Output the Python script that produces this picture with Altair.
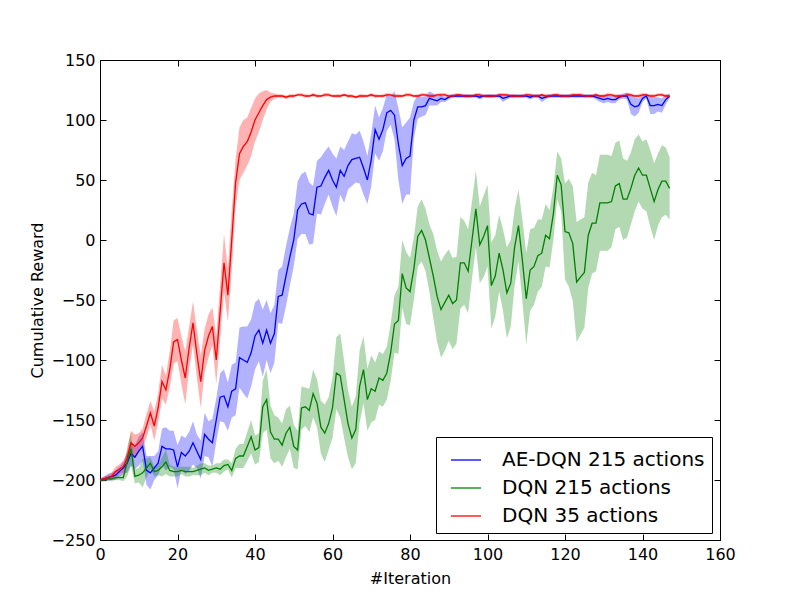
import altair as alt
import pandas as pd

series_names = ["AE-DQN 215 actions", "DQN 215 actions", "DQN 35 actions"]
series_colors = ["#0000ff", "#008000", "#ff0000"]
x_ticks = [0, 20, 40, 60, 80, 100, 120, 140, 160]
y_ticks = [-250, -200, -150, -100, -50, 0, 50, 100, 150]

# AE-DQN 215 actions (blue): mean and half-width of shaded band
ae_mean = [
    -200, -199, -198, -197, -196, -193, -190, -186, -178, -181,
    -176, -172, -192, -194, -190, -186, -172, -174, -174, -175,
    -189, -177, -180, -176, -169, -176, -183, -162, -166, -169,
    -150, -131, -130, -139, -126, -124, -98, -100, -102, -94,
    -80, -75, -86, -75, -86, -78, -47, -46, -30, -14,
    0, 25, 30, 31, 22, 21, 44, 45, 52, 58,
    50, 44, 58, 53, 62, 67, 68, 69, 60, 50,
    67, 92, 84, 92, 106, 108, 104, 80, 62, 68,
    70, 100, 111, 111, 112, 118, 117, 116, 118, 117,
    119, 120, 120, 120, 120, 120, 120, 120, 119, 120,
    120, 120, 120, 120, 118, 119, 120, 120, 120, 120,
    120, 119, 120, 120, 118, 119, 120, 120, 120, 120,
    120, 120, 120, 120, 120, 120, 120, 120, 119, 118,
    117, 118, 117, 117, 119, 120, 120, 113, 111, 112,
    118, 120, 112, 112, 113, 112, 117, 120,
]
ae_spread = [
    1, 2, 3, 3, 4, 4, 5, 8, 10, 10,
    12, 12, 12, 14, 10, 10, 15, 18, 15, 16,
    18, 14, 15, 16, 18, 14, 16, 18, 15, 20,
    18, 20, 22, 20, 22, 22, 25, 28, 30, 28,
    28, 26, 28, 25, 25, 24, 22, 24, 25, 24,
    22, 24, 25, 26, 26, 24, 22, 24, 22, 20,
    22, 24, 20, 22, 20, 22, 20, 22, 22, 20,
    22, 20, 18, 18, 15, 12, 20, 30, 32, 30,
    32, 15, 10, 8, 8, 6, 5, 4, 3, 2,
    2, 1.5, 1.5, 1.5, 1.5, 1.5, 1.5, 1.5, 2, 1.5,
    1.5, 1.5, 1.5, 1.5, 3, 2, 1.5, 1.5, 1.5, 1.5,
    1.5, 2, 1.5, 1.5, 3, 2, 1.5, 1.5, 1.5, 1.5,
    1.5, 1.5, 1.5, 1.5, 1.5, 1.5, 1.5, 1.5, 2, 3,
    3, 3, 3, 3, 2, 2, 3, 8, 8, 6,
    3, 2, 7, 7, 6, 6, 4, 2,
]

# DQN 215 actions (green)
dqn215_mean = [
    -200, -200, -199, -199, -198, -198, -198, -185, -174, -197,
    -196, -194, -190, -186, -193, -192, -189, -185, -192, -193,
    -193, -192, -193, -193, -193, -192, -191, -190, -192, -191,
    -190, -191, -188, -187, -192, -182, -180, -180, -172, -164,
    -175, -173, -139, -133, -160, -166, -166, -171, -161, -156,
    -172, -175, -140, -139, -142, -128, -136, -156, -161, -153,
    -140, -111, -113, -133, -153, -165, -158, -122, -108, -133,
    -124, -126, -115, -117, -111, -94, -70, -67, -28, -40,
    -43, -24, 3, 8, 0, -15, -30, -47, -58, -52,
    -46, -53, -50, -19, -19, -26, 0, 26, -4, 3,
    12, -38, -30, -11, -25, -44, -36, -6, 12, -17,
    -49, -25, -22, -13, -11, 4, 1, 22, 54, 46,
    7, 6, -3, -35, -31, -27, 4, 14, 14, 31,
    31, 31, 32, 45, 47, 34, 34, 43, 54, 60,
    54, 54, 43, 32, 42, 49, 49, 43,
]
dqn215_spread = [
    1, 1, 1, 2, 2, 2, 3, 12, 14, 6,
    6, 12, 8, 5, 4, 4, 8, 10, 5, 4,
    4, 3, 4, 4, 3, 4, 5, 4, 4, 3,
    4, 5, 5, 4, 6, 8, 10, 10, 12, 14,
    12, 12, 22, 25, 22, 20, 18, 18, 20, 18,
    18, 16, 18, 16, 18, 20, 20, 22, 24, 22,
    25, 30, 35, 32, 28, 26, 28, 30, 28, 26,
    28, 24, 22, 22, 22, 24, 24, 28, 28, 30,
    28, 26, 25, 26, 26, 28, 35, 38, 40, 40,
    38, 38, 36, 38, 35, 35, 32, 32, 32, 34,
    34, 36, 34, 32, 34, 38, 36, 32, 30, 34,
    38, 34, 32, 30, 28, 26, 24, 22, 20, 22,
    40, 45, 48, 50, 48, 46, 44, 42, 40, 40,
    40, 40, 38, 36, 36, 34, 32, 30, 30, 28,
    28, 30, 32, 32, 30, 30, 28, 26,
]

# DQN 35 actions (red)
dqn35_mean = [
    -200, -199, -198, -197, -193, -191, -189, -182, -169, -172,
    -169, -165, -155, -144, -155, -140, -118, -125, -108, -85,
    -83, -100, -115, -90, -69, -95, -118, -92, -80, -72,
    -100, -60, -19, -46, 0, 48, 72, 78, 82, 90,
    100, 106, 112, 117, 119, 120, 120, 120, 119, 120,
    120, 121, 121, 120, 120, 121, 120, 120, 121, 121,
    120, 120, 120, 121, 120, 120, 119, 120, 120, 120,
    121, 120, 120, 120, 121, 121, 120, 120, 120, 121,
    121, 120, 120, 121, 121, 120, 120, 121, 121, 121,
    120, 120, 121, 121, 120, 120, 120, 121, 121, 120,
    120, 120, 120, 121, 121, 121, 120, 120, 120, 120,
    121, 121, 120, 120, 121, 120, 120, 121, 121, 120,
    120, 120, 121, 121, 121, 120, 120, 120, 121, 120,
    120, 121, 121, 120, 120, 120, 121, 121, 120, 120,
    121, 121, 120, 120, 121, 121, 120, 120,
]
dqn35_spread = [
    1, 2, 2, 3, 4, 4, 5, 6, 10, 10,
    8, 8, 10, 10, 12, 12, 14, 12, 15, 18,
    18, 20, 22, 18, 18, 20, 22, 18, 18, 16,
    20, 22, 24, 22, 25, 20, 22, 22, 20, 20,
    18, 16, 12, 8, 4, 2, 1.5, 1.5, 1.5, 1.5,
    1.5, 1, 1.5, 1.5, 1, 1.5, 1.5, 1, 1.5, 1.5,
    1, 1.5, 1.5, 1, 1.5, 1.5, 1, 1.5, 1.5, 1,
    1.5, 1.5, 1, 1.5, 1.5, 1, 1.5, 1.5, 1, 1.5,
    1.5, 1, 1.5, 1.5, 1, 1.5, 1.5, 1, 1.5, 1.5,
    1, 1.5, 1.5, 1, 1.5, 1.5, 1, 1.5, 1.5, 1,
    1.5, 1.5, 1, 1.5, 1.5, 1, 1.5, 1.5, 1, 1.5,
    1.5, 1, 1.5, 1.5, 1, 1.5, 1.5, 1, 1.5, 1.5,
    1, 1.5, 1.5, 1, 1.5, 1.5, 1, 1.5, 1.5, 1,
    1.5, 1.5, 1, 1.5, 1.5, 1, 1.5, 1.5, 1, 1.5,
    1.5, 1, 1.5, 1.5, 1, 1.5, 1.5, 1,
]

rows = []
for name, means, spreads in [
    (series_names[0], ae_mean, ae_spread),
    (series_names[1], dqn215_mean, dqn215_spread),
    (series_names[2], dqn35_mean, dqn35_spread),
]:
    for i, (m, s) in enumerate(zip(means, spreads)):
        rows.append({"iter": i, "series": name, "mean": m, "lo": m - s, "hi": m + s})
df = pd.DataFrame(rows)

FONT = "DejaVu Sans"
xscale = alt.Scale(domain=[0, 160], nice=False, zero=False)
yscale = alt.Scale(domain=[-250, 150], nice=False, zero=False)
cscale = alt.Scale(domain=series_names, range=series_colors)

legend = alt.Legend(
    title=None, orient="none", legendX=336, legendY=377,
    strokeColor="black", fillColor="white", padding=7,
    cornerRadius=0, symbolType="stroke", symbolSize=900, symbolOffset=7,
    symbolStrokeWidth=1.3, symbolOpacity=1, labelFontSize=20, labelFont=FONT,
    labelColor="black", labelOffset=20, rowPadding=2, labelLimit=400,
)

common_axis = dict(
    domain=False, grid=False, tickSize=6, offset=-6, tickColor="black",
    tickWidth=1, labelColor="black", labelFontSize=16, labelFont=FONT,
    titleFont=FONT, titleFontSize=16, titleFontWeight="normal",
    titleColor="black", labelFlush=False, labelOverlap=False, labelBound=False,
)

x_axis = alt.Axis(orient="bottom", values=x_ticks, title="#Iteration",
                  labelPadding=6, titlePadding=8, **common_axis)
y_axis = alt.Axis(orient="left", values=y_ticks, title="Cumulative Reward",
                  labelPadding=5, titlePadding=6, **common_axis)
x_axis_top = alt.Axis(orient="top", values=x_ticks, title=None, labels=False,
                      **common_axis)
y_axis_right = alt.Axis(orient="right", values=y_ticks, title=None, labels=False,
                        **common_axis)

band = alt.Chart(df).mark_area(opacity=0.3, interpolate="linear").encode(
    x=alt.X("iter:Q", scale=xscale, axis=x_axis),
    y=alt.Y("lo:Q", scale=yscale, axis=y_axis),
    y2="hi:Q",
    color=alt.Color("series:N", scale=cscale, legend=legend),
    detail="series:N",
)

lines = alt.Chart(df).mark_line(strokeWidth=1.3).encode(
    x=alt.X("iter:Q", scale=xscale, axis=None),
    y=alt.Y("mean:Q", scale=yscale, axis=None),
    color=alt.Color("series:N", scale=cscale, legend=legend),
    detail="series:N",
)

frame_ticks = alt.Chart(df).mark_line(opacity=0).encode(
    x=alt.X("iter:Q", scale=xscale, axis=x_axis_top),
    y=alt.Y("mean:Q", scale=yscale, axis=y_axis_right),
    detail="series:N",
)

chart = (
    alt.layer(band, lines, frame_ticks)
    .resolve_axis(x="independent", y="independent")
    .properties(
        width=620, height=480,
        autosize=alt.AutoSizeParams(type="none"),
        padding={"left": 92, "top": 52, "right": 72, "bottom": 52},
    )
    .configure(font=FONT)
    .configure_view(stroke="black", strokeWidth=1)
)

chart.save("out.html", embed_options={"renderer": "svg", "actions": False})
